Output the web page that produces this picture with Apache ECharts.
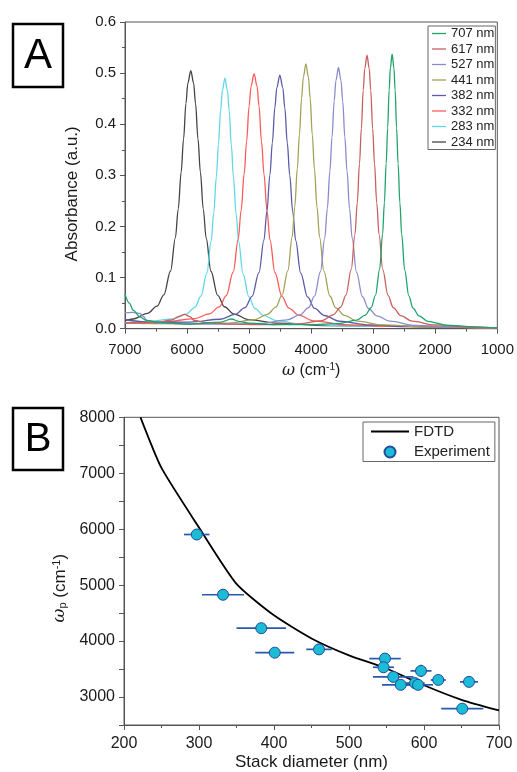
<!DOCTYPE html>
<html>
<head>
<meta charset="utf-8">
<script src="https://cdn.jsdelivr.net/npm/echarts@6/dist/echarts.min.js"></script>
<style>html,body{margin:0;padding:0;background:#fff;}#c{width:517px;height:772px;}</style>
</head>
<body>
<div id="c"></div>
<script>
// ---------- Panel A data (wavenumber cm^-1, absorbance) ----------
const curve707 = [[1000,0.0012],[1351,0.0037],[1831,0.0071],[2119,0.0144],[2263,0.0252],[2359,0.0402],[2426,0.0643],[2493,0.115],[2541,0.1845],[2570,0.2458],[2599,0.323],[2623,0.3925],[2647,0.4671],[2666,0.51],[2695,0.537],[2724,0.51],[2743,0.4674],[2767,0.393],[2791,0.3235],[2820,0.2463],[2849,0.1851],[2897,0.1158],[2964,0.0653],[3031,0.0414],[3127,0.0266],[3271,0.0166],[3559,0.0101],[4039,0.0078],[4600,0.008],[5000,0.011],[5150,0.014],[5290,0.019],[5450,0.013],[6000,0.009],[6400,0.012],[6650,0.016],[6760,0.023],[6866,0.036],[6930,0.05],[7000,0.068]];
const curve617 = [[1000,0.0012],[1406,0.0027],[2011,0.0073],[2374,0.0148],[2556,0.0256],[2677,0.0412],[2761,0.0652],[2846,0.1157],[2906,0.1844],[2943,0.2457],[2979,0.3227],[3009,0.3917],[3040,0.4661],[3064,0.5086],[3100,0.535],[3136,0.5087],[3161,0.4662],[3191,0.3918],[3221,0.3229],[3257,0.246],[3294,0.1849],[3354,0.116],[3439,0.0657],[3524,0.042],[3645,0.0272],[3826,0.0159],[4189,0.0096],[4794,0.0078],[5300,0.009],[5700,0.012],[5880,0.016],[5960,0.024],[6040,0.028],[6130,0.024],[6250,0.017],[6500,0.012],[7000,0.011]];
const curve527 = [[1000,0.0012],[1628,0.0029],[2318,0.0066],[2732,0.0147],[2939,0.0252],[3077,0.0395],[3174,0.0625],[3270,0.1107],[3339,0.1765],[3381,0.2348],[3422,0.3082],[3457,0.3742],[3491,0.445],[3519,0.4855],[3560,0.511],[3601,0.4856],[3629,0.4451],[3664,0.3744],[3698,0.3086],[3739,0.2353],[3781,0.1772],[3850,0.1116],[3946,0.0636],[4043,0.041],[4181,0.0271],[4388,0.0172],[4802,0.0103],[5492,0.0088],[6000,0.0095],[6500,0.011],[6631,0.014],[6706,0.024],[6760,0.030],[6880,0.032],[7000,0.031]];
const curve441 = [[1000,0.001],[2153,0.0037],[2843,0.0074],[3257,0.0147],[3464,0.0262],[3602,0.0407],[3699,0.064],[3795,0.1127],[3864,0.1793],[3906,0.2383],[3947,0.3126],[3982,0.3793],[4016,0.4509],[4044,0.492],[4085,0.518],[4126,0.4921],[4154,0.4512],[4189,0.3796],[4223,0.313],[4264,0.2389],[4306,0.18],[4375,0.1136],[4471,0.0651],[4568,0.0421],[4706,0.0281],[4913,0.0177],[5327,0.0111],[6017,0.0095],[7000,0.0108]];
const curve382 = [[1000,0.001],[2425,0.0041],[3065,0.0075],[3545,0.0146],[3785,0.0258],[3945,0.0397],[4057,0.062],[4169,0.1087],[4249,0.1725],[4297,0.2289],[4345,0.3],[4385,0.3638],[4425,0.4324],[4457,0.4717],[4505,0.496],[4553,0.4718],[4585,0.4327],[4625,0.3641],[4665,0.3005],[4713,0.2296],[4761,0.1731],[4841,0.1096],[4953,0.0633],[5065,0.0414],[5225,0.0279],[5465,0.0185],[5945,0.0128],[6585,0.0125],[7000,0.018]];
const curve332 = [[1000,0.001],[2840,0.0048],[3480,0.0081],[3960,0.0152],[4200,0.0265],[4360,0.0404],[4472,0.0633],[4584,0.1099],[4664,0.174],[4712,0.2311],[4760,0.3021],[4800,0.3662],[4840,0.4353],[4872,0.4743],[4920,0.499],[4968,0.4745],[5000,0.4355],[5040,0.3666],[5080,0.3026],[5128,0.2317],[5176,0.1748],[5256,0.1109],[5368,0.0646],[5480,0.0426],[5640,0.029],[5880,0.0196],[6360,0.0134],[7000,0.0115]];
const curve283 = [[1000,0.001],[3458,0.0056],[4148,0.009],[4562,0.0159],[4769,0.0259],[4907,0.0396],[5004,0.0624],[5100,0.1081],[5169,0.1713],[5211,0.2263],[5252,0.2964],[5287,0.3594],[5321,0.4265],[5349,0.4655],[5390,0.49],[5431,0.466],[5459,0.427],[5494,0.36],[5528,0.297],[5569,0.227],[5611,0.172],[5680,0.109],[5776,0.0636],[5873,0.0419],[6011,0.0287],[6218,0.0194],[6632,0.0138],[7000,0.012]];
const curve234 = [[1000,0.0015],[3770,0.0062],[4545,0.0108],[5010,0.0179],[5243,0.0287],[5398,0.0429],[5506,0.0652],[5615,0.1124],[5692,0.1774],[5739,0.2341],[5785,0.3063],[5824,0.3713],[5863,0.4403],[5894,0.4804],[5940,0.505],[5987,0.4805],[6018,0.4405],[6056,0.3715],[6095,0.3065],[6142,0.2345],[6188,0.1778],[6266,0.1129],[6374,0.0661],[6483,0.044],[6638,0.03],[6870,0.019],[7000,0.016]];
const curveNames = ['707 nm','617 nm','527 nm','441 nm','382 nm','332 nm','283 nm','234 nm'];
const curveColors = ['#1fa36b','#c9605e','#8b8bcc','#a3a257','#5b5ba6','#ff5a5a','#5fd8e6','#444444'];
const curves = [curve707, curve617, curve527, curve441, curve382, curve332, curve283, curve234];

// ---------- Panel B data ----------
const fdtdD = [222,250,300,350,400,450,500,550,600,650,700];
const fdtdW = [8000,7095,6030,5023,4460,4047,3745,3510,3210,2950,2760];
const expD   = [297,332,383,401,460,548,546,559,569,588,592,596,619,660,651];
const expW   = [5905,4828,4230,3793,3852,3687,3532,3360,3218,3249,3218,3467,3305,3271,2792];
const expDErr= [17,28,33,26,17,21,14,27,25,13,20,14,10,12,28];
const expWErr= [50,70,50,50,50,50,50,50,50,50,50,110,70,90,60];
const yLabelsB = [3000,4000,5000,6000,7000,8000];

const FONT = 'Liberation Sans, Arial, Helvetica, sans-serif';
const chart = echarts.init(document.getElementById('c'), null, {renderer:'canvas'});

const seriesA = curves.map((c, i) => ({
  type: 'line', name: curveNames[i], xAxisIndex: 0, yAxisIndex: 0,
  data: c, symbol: 'none', smooth: 0.35, smoothMonotone: 'x',
  lineStyle: {color: curveColors[i], width: 1.3}, itemStyle: {color: curveColors[i]},
  z: 2 + (7 - i), silent: true
}));

const axisCommon = {
  axisLine: {show: true, lineStyle: {color: '#555', width: 1}},
  axisTick: {show: true, inside: false, length: 5, lineStyle: {color: '#555'}},
  minorTick: {show: true, splitNumber: 2, length: 3, lineStyle: {color: '#555'}},
  splitLine: {show: false},
  minorSplitLine: {show: false}
};
const plain = v => String(v);

const option = {
  animation: false,
  backgroundColor: '#fff',
  textStyle: {fontFamily: FONT},
  grid: [
    {left: 125, right: 18, top: 22, height: 306.7, show: true, borderColor: '#555', borderWidth: 1},
    {left: 124, right: 18, top: 417.3, bottom: 45.3, show: true, borderColor: '#555', borderWidth: 1}
  ],
  xAxis: [
    Object.assign({}, axisCommon, {
      gridIndex: 0, type: 'value', min: 1000, max: 7000, interval: 1000, inverse: true,
      axisLabel: {fontSize: 15, color: '#1a1a1a', margin: 14, fontFamily: FONT, formatter: plain},
      name: '{i|ω} (cm{sup|-1})', nameLocation: 'middle', nameGap: 34,
      nameTextStyle: {fontSize: 16, color: '#1a1a1a', fontFamily: FONT,
        rich: {i: {fontSize: 16, fontStyle: 'italic', fontFamily: 'DejaVu Serif, serif', color: '#1a1a1a'},
               sup: {fontSize: 10, verticalAlign: 'top', color: '#1a1a1a'}}}
    }),
    Object.assign({}, axisCommon, {
      gridIndex: 1, type: 'value', min: 200, max: 700, interval: 100,
      axisLabel: {fontSize: 16, color: '#1a1a1a', margin: 11, fontFamily: FONT, formatter: plain},
      name: 'Stack diameter (nm)', nameLocation: 'middle', nameGap: 29,
      nameTextStyle: {fontSize: 17, color: '#1a1a1a', fontFamily: FONT}
    })
  ],
  yAxis: [
    Object.assign({}, axisCommon, {
      gridIndex: 0, type: 'value', min: 0, max: 0.6, interval: 0.1,
      axisLabel: {fontSize: 15, color: '#1a1a1a', margin: 9, fontFamily: FONT, formatter: v => v.toFixed(1)},
      name: 'Absorbance (a.u.)', nameLocation: 'middle', nameGap: 44,
      nameTextStyle: {fontSize: 17, color: '#1a1a1a', fontFamily: FONT, padding: [0, 37, 0, 0]}
    }),
    Object.assign({}, axisCommon, {
      gridIndex: 1, type: 'value', min: 2500, max: 8000, interval: 500,
      minorTick: {show: false},
      axisLabel: {fontSize: 16, color: '#1a1a1a', margin: 9, fontFamily: FONT, customValues: yLabelsB, formatter: plain},
      name: '{i|ω}{sub|p} (cm{sup|-1})', nameLocation: 'middle', nameGap: 38,
      nameTextStyle: {fontSize: 17, color: '#1a1a1a', fontFamily: FONT, padding: [0, 34, 0, 0],
        rich: {i: {fontSize: 17, fontStyle: 'italic', fontFamily: 'DejaVu Serif, serif', color: '#1a1a1a'},
               sub: {fontSize: 11, verticalAlign: 'bottom', color: '#1a1a1a'},
               sup: {fontSize: 11, verticalAlign: 'top', color: '#1a1a1a'}}}
    })
  ],
  legend: [
    {
      data: curveNames.map(n => ({name: n, icon: 'path://M0,0L14,0L14,1.3L0,1.3Z'})),
      orient: 'vertical', left: 428, top: 26,
      itemWidth: 14, itemHeight: 10, itemGap: 2.5,
      padding: [1, 1, 1, 4], borderColor: '#666', borderWidth: 1, backgroundColor: '#fff',
      textStyle: {fontSize: 13, color: '#222', fontFamily: FONT},
      selectedMode: false
    },
    {
      data: [{name: 'FDTD', icon: 'path://M0,0L38,0L38,2L0,2Z'}, {name: 'Experiment', icon: 'circle'}],
      orient: 'vertical', left: 363, top: 422,
      itemWidth: 38, itemHeight: 11, itemGap: 5.5,
      padding: [2, 5, 2, 8], borderColor: '#666', borderWidth: 1, backgroundColor: '#fff',
      textStyle: {fontSize: 15, color: '#222', fontFamily: FONT},
      selectedMode: false
    }
  ],
  graphic: [
    {type: 'rect', shape: {x: 13, y: 24, width: 50, height: 63}, style: {fill: '#fff', stroke: '#000', lineWidth: 2.5}},
    {type: 'text', x: 38, y: 56, style: {text: 'A', fontSize: 42, fontFamily: FONT, fill: '#000', align: 'center', verticalAlign: 'middle'}},
    {type: 'rect', shape: {x: 13, y: 408, width: 50, height: 62}, style: {fill: '#fff', stroke: '#000', lineWidth: 2.5}},
    {type: 'text', x: 38, y: 440, style: {text: 'B', fontSize: 40, fontFamily: FONT, fill: '#000', align: 'center', verticalAlign: 'middle'}}
  ],
  series: seriesA.concat([
    {
      type: 'line', name: 'FDTD', xAxisIndex: 1, yAxisIndex: 1,
      data: fdtdD.map((d, i) => [d, fdtdW[i]]), symbol: 'none', smooth: 0.2,
      lineStyle: {color: '#000', width: 1.8}, itemStyle: {color: '#000'}, clip: true, z: 3
    },
    {
      type: 'custom', name: 'errbars', xAxisIndex: 1, yAxisIndex: 1,
      data: expD.map((d, i) => [d, expW[i], expDErr[i], expWErr[i]]),
      encode: {x: 0, y: 1},
      renderItem: function (params, api) {
        const x = api.value(0), y = api.value(1), ex = api.value(2), ey = api.value(3);
        const a = api.coord([x - ex, y]), b = api.coord([x + ex, y]);
        const c = api.coord([x, y - ey]), d = api.coord([x, y + ey]);
        const st = {stroke: '#2a58ab', lineWidth: 1.7};
        return {type: 'group', children: [
          {type: 'line', shape: {x1: a[0], y1: a[1], x2: b[0], y2: b[1]}, style: st},
          {type: 'line', shape: {x1: c[0], y1: c[1], x2: d[0], y2: d[1]}, style: st}
        ]};
      }, z: 4, silent: true
    },
    {
      type: 'scatter', name: 'Experiment', xAxisIndex: 1, yAxisIndex: 1,
      data: expD.map((d, i) => [d, expW[i]]), symbol: 'circle', symbolSize: 11,
      itemStyle: {color: '#1cbcd6', borderColor: '#1f4c9c', borderWidth: 1, opacity: 1}, z: 5
    }
  ])
};
chart.setOption(option);
</script>
</body>
</html>
